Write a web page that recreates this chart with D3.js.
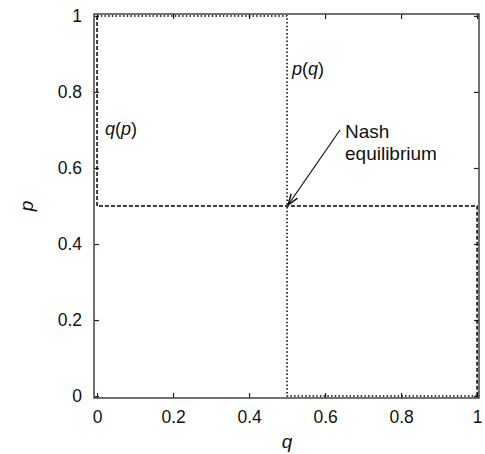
<!DOCTYPE html>
<html>
<head>
<meta charset="utf-8">
<script src="https://cdn.jsdelivr.net/npm/d3@7"></script>
<style>
  body { margin: 0; background: #fff; }
  text { font-family: "Liberation Sans", Arial, sans-serif; fill: #111; }
</style>
</head>
<body>
<div id="chart"></div>
<script>
// tick labels
var tickValues = [0, 0.2, 0.4, 0.6, 0.8, 1];
var tickLabels = ["0", "0.2", "0.4", "0.6", "0.8", "1"];

// best responses, as [q, p] points
var qOfP = [[0, 1], [0, 0.5], [1, 0.5], [1, 0]];     // q(p), dashed
var pOfQ = [[0, 1], [0.5, 1], [0.5, 0], [1, 0]];     // p(q), dotted
var nash = [0.5, 0.5];

var w = 485, h = 454;

var svg = d3.select("#chart").append("svg")
            .attr("width", w)
            .attr("height", h);

var x = d3.scaleLinear().domain([-0.008, 1.005]).range([94, 479]);
var y = d3.scaleLinear().domain([-0.005, 1.005]).range([398, 14]);

var fmt = function(d) { return tickLabels[tickValues.indexOf(d)]; };

// axes with inward ticks, mirrored on top and right
svg.append("g")
   .attr("transform", "translate(0," + y.range()[0] + ")")
   .call(d3.axisBottom(x).tickValues(tickValues).tickFormat(fmt).tickSizeInner(-5).tickSizeOuter(0).tickPadding(13))
   .call(function(g) { g.select(".domain").remove(); })
   .selectAll("text").attr("font-size", 17.5).attr("fill", "#111");

svg.append("g")
   .attr("transform", "translate(" + x.range()[0] + ",0)")
   .call(d3.axisLeft(y).tickValues(tickValues).tickFormat(fmt).tickSizeInner(-5).tickSizeOuter(0).tickPadding(12))
   .call(function(g) { g.select(".domain").remove(); })
   .selectAll("text").attr("font-size", 17.5).attr("fill", "#111");

svg.append("g")
   .attr("transform", "translate(0," + y.range()[1] + ")")
   .call(d3.axisTop(x).tickValues(tickValues).tickFormat("").tickSizeInner(-5).tickSizeOuter(0))
   .call(function(g) { g.select(".domain").remove(); });

svg.append("g")
   .attr("transform", "translate(" + x.range()[1] + ",0)")
   .call(d3.axisRight(y).tickValues(tickValues).tickFormat("").tickSizeInner(-5).tickSizeOuter(0))
   .call(function(g) { g.select(".domain").remove(); });

svg.selectAll(".tick line").attr("stroke", "#222").attr("stroke-width", 1.2);

// frame
svg.append("rect")
   .attr("x", x.range()[0])
   .attr("y", y.range()[1])
   .attr("width", x.range()[1] - x.range()[0])
   .attr("height", y.range()[0] - y.range()[1])
   .attr("fill", "none")
   .attr("stroke", "#444")
   .attr("stroke-width", 1.5);

var line = d3.line()
             .x(function(d) { return x(d[0]); })
             .y(function(d) { return y(d[1]); });

svg.append("path")
   .attr("d", line(qOfP))
   .attr("fill", "none")
   .attr("stroke", "#000")
   .attr("stroke-width", 1.5)
   .attr("stroke-dasharray", "4,2");

svg.append("path")
   .attr("d", line(pOfQ))
   .attr("fill", "none")
   .attr("stroke", "#000")
   .attr("stroke-width", 1.5)
   .attr("stroke-dasharray", "1.5,2.2");

// curve labels
var lab = function(tx, ty, parts) {
  var t = svg.append("text").attr("x", tx).attr("y", ty).attr("font-size", 18);
  parts.forEach(function(p) {
    t.append("tspan").attr("font-style", p[1] ? "italic" : "normal").text(p[0]);
  });
};
lab(105, 135, [["q", 1], ["(", 0], ["p", 1], [")", 0]]);
lab(292, 75, [["p", 1], ["(", 0], ["q", 1], [")", 0]]);

// Nash annotation
svg.append("defs").append("marker")
   .attr("id", "arr")
   .attr("viewBox", "0 0 10 10")
   .attr("refX", 10).attr("refY", 5)
   .attr("markerWidth", 11).attr("markerHeight", 11)
   .attr("markerUnits", "userSpaceOnUse")
   .attr("orient", "auto")
   .append("path")
   .attr("d", "M0,1.5 L10,5 L0,8.5")
   .attr("fill", "none")
   .attr("stroke", "#111")
   .attr("stroke-width", 1.4);

svg.append("line")
   .attr("x1", 340).attr("y1", 130)
   .attr("x2", x(nash[0]) + 1).attr("y2", y(nash[1]) - 1)
   .attr("stroke", "#111")
   .attr("stroke-width", 1.2)
   .attr("marker-end", "url(#arr)");

svg.append("text").attr("x", 345).attr("y", 138).attr("font-size", 19).text("Nash");
svg.append("text").attr("x", 345).attr("y", 159.5).attr("font-size", 19).text("equilibrium");

// axis titles
svg.append("text")
   .attr("x", x(0.5)).attr("y", 448)
   .attr("text-anchor", "middle")
   .attr("font-size", 19).attr("font-style", "italic")
   .text("q");

svg.append("text")
   .attr("transform", "translate(33," + y(0.5) + ") rotate(-90)")
   .attr("text-anchor", "middle")
   .attr("font-size", 19).attr("font-style", "italic")
   .text("p");
</script>
</body>
</html>
